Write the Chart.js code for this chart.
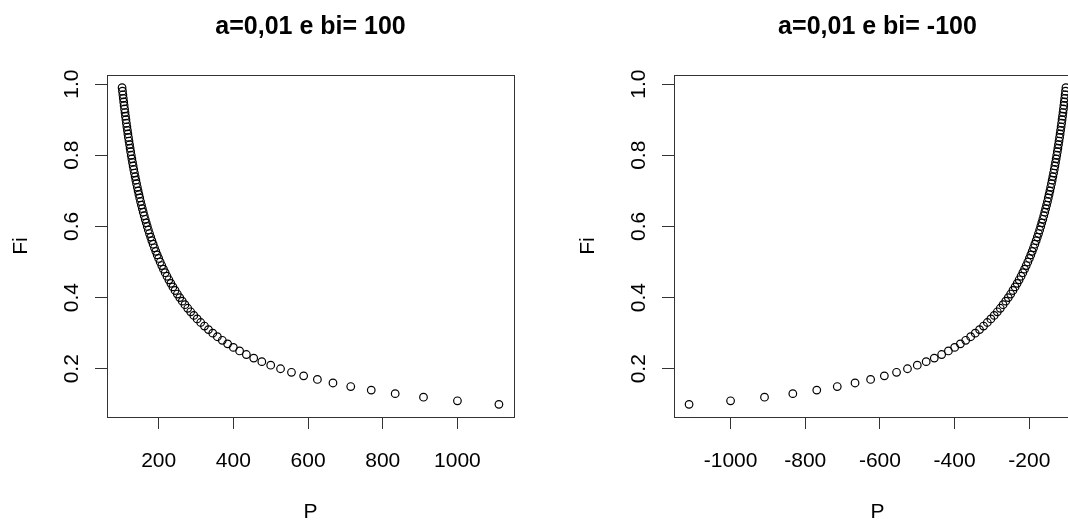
<!DOCTYPE html>
<html>
<head>
<meta charset="utf-8">
<script src="https://cdn.jsdelivr.net/npm/chart.js@4/dist/chart.umd.min.js"></script>
<style>
    body { margin: 0; background: #fff; }
    #wrap { position: relative; width: 1068px; height: 520px; overflow: hidden; }
    canvas { position: absolute; top: 0; }
</style>
</head>
<body>
<div id="wrap">
    <canvas id="plotPos" width="567" height="520" style="left:0"></canvas>
    <canvas id="plotNeg" width="567" height="520" style="left:567px"></canvas>
</div>
<script>
// Fi values (y) shared by both panels
const fiValues = [0.10, 0.11, 0.12, 0.13, 0.14, 0.15, 0.16, 0.17, 0.18, 0.19,
    0.20, 0.21, 0.22, 0.23, 0.24, 0.25, 0.26, 0.27, 0.28, 0.29,
    0.30, 0.31, 0.32, 0.33, 0.34, 0.35, 0.36, 0.37, 0.38, 0.39,
    0.40, 0.41, 0.42, 0.43, 0.44, 0.45, 0.46, 0.47, 0.48, 0.49,
    0.50, 0.51, 0.52, 0.53, 0.54, 0.55, 0.56, 0.57, 0.58, 0.59,
    0.60, 0.61, 0.62, 0.63, 0.64, 0.65, 0.66, 0.67, 0.68, 0.69,
    0.70, 0.71, 0.72, 0.73, 0.74, 0.75, 0.76, 0.77, 0.78, 0.79,
    0.80, 0.81, 0.82, 0.83, 0.84, 0.85, 0.86, 0.87, 0.88, 0.89,
    0.90, 0.91, 0.92, 0.93, 0.94, 0.95, 0.96, 0.97, 0.98, 0.99];

// P values (x), bi = 100
const pPositive = [1111.1, 1000.0, 909.1, 833.3, 769.2, 714.3, 666.7, 625.0, 588.2, 555.6,
    526.3, 500.0, 476.2, 454.5, 434.8, 416.7, 400.0, 384.6, 370.4, 357.1,
    344.8, 333.3, 322.6, 312.5, 303.0, 294.1, 285.7, 277.8, 270.3, 263.2,
    256.4, 250.0, 243.9, 238.1, 232.6, 227.3, 222.2, 217.4, 212.8, 208.3,
    204.1, 200.0, 196.1, 192.3, 188.7, 185.2, 181.8, 178.6, 175.4, 172.4,
    169.5, 166.7, 163.9, 161.3, 158.7, 156.3, 153.8, 151.5, 149.3, 147.1,
    144.9, 142.9, 140.8, 138.9, 137.0, 135.1, 133.3, 131.6, 129.9, 128.2,
    126.6, 125.0, 123.5, 122.0, 120.5, 119.0, 117.6, 116.3, 114.9, 113.6,
    112.4, 111.1, 109.9, 108.7, 107.5, 106.4, 105.3, 104.2, 103.1, 102.0];

// P values (x), bi = -100
const pNegative = [-1111.1, -1000.0, -909.1, -833.3, -769.2, -714.3, -666.7, -625.0, -588.2, -555.6,
    -526.3, -500.0, -476.2, -454.5, -434.8, -416.7, -400.0, -384.6, -370.4, -357.1,
    -344.8, -333.3, -322.6, -312.5, -303.0, -294.1, -285.7, -277.8, -270.3, -263.2,
    -256.4, -250.0, -243.9, -238.1, -232.6, -227.3, -222.2, -217.4, -212.8, -208.3,
    -204.1, -200.0, -196.1, -192.3, -188.7, -185.2, -181.8, -178.6, -175.4, -172.4,
    -169.5, -166.7, -163.9, -161.3, -158.7, -156.3, -153.8, -151.5, -149.3, -147.1,
    -144.9, -142.9, -140.8, -138.9, -137.0, -135.1, -133.3, -131.6, -129.9, -128.2,
    -126.6, -125.0, -123.5, -122.0, -120.5, -119.0, -117.6, -116.3, -114.9, -113.6,
    -112.4, -111.1, -109.9, -108.7, -107.5, -106.4, -105.3, -104.2, -103.1, -102.0];

const xTicksPos = [200, 400, 600, 800, 1000];
const xTicksNeg = [-1000, -800, -600, -400, -200];
const yTicks = [0.2, 0.4, 0.6, 0.8, 1.0];
const titlePos = 'a=0,01 e bi= 100';
const titleNeg = 'a=0,01 e bi= -100';
const xLabel = 'P';
const yLabel = 'Fi';

const FONT = '"Liberation Sans", Arial, sans-serif';

// R style: extend data range by 4% on each side
function rRange(values) {
    const lo = Math.min(...values), hi = Math.max(...values);
    const pad = (hi - lo) * 0.04;
    return { min: lo - pad, max: hi + pad };
}

// box, tick labels and titles in base-graphics look
const rPlot = {
    id: 'rPlot',
    afterDraw(chart) {
        const ctx = chart.ctx;
        const a = chart.chartArea;
        const xs = chart.scales.x, ys = chart.scales.y;
        const title = chart.options.plugins.rPlot.title;
        const cx = (a.left + a.right) / 2;
        const cy = (a.top + a.bottom) / 2;

        ctx.save();
        ctx.strokeStyle = '#333';
        ctx.lineWidth = 1;
        ctx.strokeRect(Math.round(a.left) + 0.5, Math.round(a.top) + 0.5,
            Math.round(a.right - a.left), Math.round(a.bottom - a.top));

        ctx.fillStyle = '#000';
        ctx.textAlign = 'center';
        ctx.textBaseline = 'alphabetic';
        ctx.font = '21px ' + FONT;
        xs.ticks.forEach(t => {
            ctx.fillText(String(t.value), xs.getPixelForValue(t.value), 467);
        });
        ctx.fillText(xLabel, cx, 518);

        ys.ticks.forEach(t => {
            ctx.save();
            ctx.translate(78, ys.getPixelForValue(t.value));
            ctx.rotate(-Math.PI / 2);
            ctx.fillText(t.value.toFixed(1), 0, 0);
            ctx.restore();
        });
        ctx.save();
        ctx.translate(27, cy);
        ctx.rotate(-Math.PI / 2);
        ctx.fillText(yLabel, 0, 0);
        ctx.restore();

        ctx.font = 'bold 25px ' + FONT;
        ctx.fillText(title, cx, 34);
        ctx.restore();
    }
};

function makePlot(canvasId, pValues, xTicks, title) {
    const xr = rRange(pValues);
    const yr = rRange(fiValues);
    const points = pValues.map((p, i) => ({ x: p, y: fiValues[i] }));

    new Chart(document.getElementById(canvasId), {
        type: 'scatter',
        data: {
            datasets: [{
                data: points,
                pointRadius: 3.8,
                pointHoverRadius: 3.8,
                pointBorderWidth: 1.2,
                pointBorderColor: '#000',
                pointBackgroundColor: 'rgba(0,0,0,0)'
            }]
        },
        options: {
            responsive: false,
            animation: false,
            events: [],
            layout: { padding: { left: 0, right: 53, top: 75, bottom: 0 } },
            plugins: {
                legend: { display: false },
                tooltip: { enabled: false },
                rPlot: { title: title }
            },
            scales: {
                x: {
                    type: 'linear',
                    min: xr.min,
                    max: xr.max,
                    afterBuildTicks: s => { s.ticks = xTicks.map(v => ({ value: v })); },
                    afterFit: s => { s.height = 103; },
                    ticks: { display: false },
                    border: { display: false },
                    grid: { drawOnChartArea: false, drawTicks: true, tickLength: 12, color: '#333', lineWidth: 1 }
                },
                y: {
                    type: 'linear',
                    min: yr.min,
                    max: yr.max,
                    afterBuildTicks: s => { s.ticks = yTicks.map(v => ({ value: v })); },
                    afterFit: s => { s.width = 107; },
                    ticks: { display: false },
                    border: { display: false },
                    grid: { drawOnChartArea: false, drawTicks: true, tickLength: 12, color: '#333', lineWidth: 1 }
                }
            }
        },
        plugins: [rPlot]
    });
}

document.addEventListener('DOMContentLoaded', function() {
    makePlot('plotPos', pPositive, xTicksPos, titlePos);
    makePlot('plotNeg', pNegative, xTicksNeg, titleNeg);
});
</script>
</body>
</html>
